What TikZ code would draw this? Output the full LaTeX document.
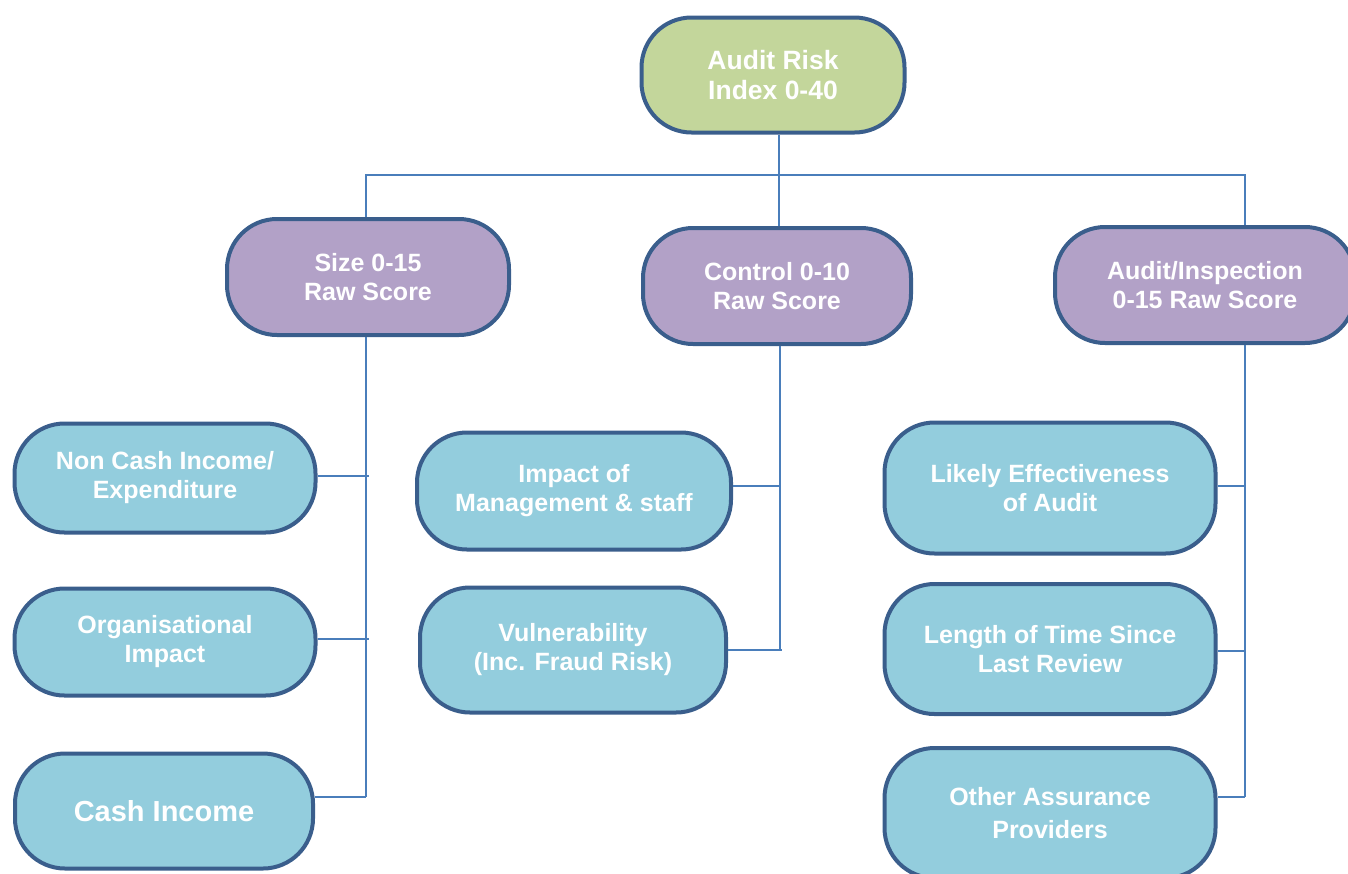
\documentclass[tikz,border=0pt]{standalone}
\usepackage{fontspec}
\setmainfont{Liberation Sans}
\usetikzlibrary{calc}
\definecolor{topgreen}{HTML}{C3D69B}
\definecolor{midpurple}{HTML}{B2A1C7}
\definecolor{leafblue}{HTML}{93CDDD}
\definecolor{rimblue}{HTML}{3A5E8C}
\definecolor{linkblue}{HTML}{4A7EBB}
\tikzset{
  pill/.style={draw=rimblue, line width=4pt, rounded corners=50pt, align=center,
    text=white, font=\fontsize{25}{29}\selectfont\bfseries, inner sep=0pt},
  conn/.style={draw=linkblue, line width=1.6pt},
}
\begin{document}
\begin{tikzpicture}[x=1pt,y=-1pt]
\useasboundingbox (0,0) rectangle (1348,873);
% nodes
\node[pill, fill=topgreen, minimum width=263pt, minimum height=115pt, font=\fontsize{26.5}{30}\selectfont\bfseries] (top) at (773,75) {Audit Risk\\Index 0-40};
\node[pill, fill=midpurple, minimum width=282pt, minimum height=116pt] (size) at (368,277) {Size 0-15\\Raw Score};
\node[pill, fill=midpurple, minimum width=268pt, minimum height=116pt] (ctrl) at (777,286) {Control 0-10\\Raw Score};
\node[pill, fill=midpurple, minimum width=300pt, minimum height=116pt] (audit) at (1205,285) {Audit/Inspection\\0-15 Raw Score};
\node[pill, fill=leafblue, minimum width=301pt, minimum height=109pt] (noncash) at (165,478) {Non Cash Income/\\Expenditure};
\node[pill, fill=leafblue, minimum width=301pt, minimum height=107pt] (org) at (165,642) {Organisational\\Impact};
\node[pill, fill=leafblue, minimum width=298pt, minimum height=115pt, font=\fontsize{29}{32}\selectfont\bfseries] (cash) at (164,811) {Cash Income};
\node[pill, fill=leafblue, minimum width=314pt, minimum height=117pt] (impact) at (574,491) {Impact of\\Management \& staff};
\node[pill, fill=leafblue, minimum width=306pt, minimum height=125pt] (vuln) at (573,650) {Vulnerability\\(Inc. Fraud Risk)};
\node[pill, fill=leafblue, minimum width=331pt, minimum height=131pt] (likely) at (1050,488) {Likely Effectiveness\\of Audit};
\node[pill, fill=leafblue, minimum width=331pt, minimum height=130pt] (length) at (1050,649) {Length of Time Since\\Last Review};
\node[pill, fill=leafblue, minimum width=331pt, minimum height=130pt, font=\fontsize{25}{33}\selectfont\bfseries] (other) at (1050,813) {Other Assurance\\Providers};
% spine coordinates
\coordinate (hb) at (0,175);
\coordinate (bot) at (0,797);
\coordinate (tsp) at (779,0);
\coordinate (ssp) at (366,0);
\coordinate (csp) at (780,0);
\coordinate (asp) at (1245,0);
% top level
\draw[conn] (tsp |- top.south) -- (tsp |- ctrl.north);
\draw[conn] (ssp |- size.north) -- (ssp |- hb) -- (asp |- hb) -- (asp |- audit.north);
% size branch
\draw[conn] (ssp |- size.south) -- (ssp |- bot);
\draw[conn] ($(noncash.east)+(0,-2)$) -- ($(noncash.east -| ssp)+(3,-2)$);
\draw[conn] ($(org.east)+(0,-3)$) -- ($(org.east -| ssp)+(3,-3)$);
\draw[conn] (cash.east |- bot) -- (ssp |- bot);
% control branch
\draw[conn] (csp |- ctrl.south) -- (csp |- vuln.east);
\draw[conn] ($(impact.east)+(0,-5)$) -- ($(impact.east -| csp)+(0,-5)$);
\draw[conn] (vuln.east) -- ($(vuln.east -| csp)+(2,0)$);
% audit branch
\draw[conn] (asp |- audit.south) -- (asp |- bot);
\draw[conn] ($(likely.east)+(0,-2)$) -- ($(likely.east -| asp)+(0,-2)$);
\draw[conn] ($(length.east)+(0,2)$) -- ($(length.east -| asp)+(0,2)$);
\draw[conn] (other.east |- bot) -- (asp |- bot);
\end{tikzpicture}
\end{document}
